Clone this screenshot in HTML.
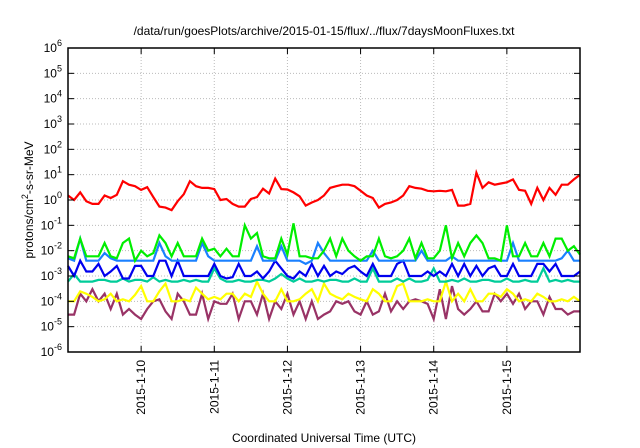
<!DOCTYPE html>
<html><head><meta charset="utf-8"><style>
html,body{margin:0;padding:0;background:#fff;}
svg{display:block;font-family:"Liberation Sans",sans-serif;}
</style></head><body>
<svg id="chart" width="640" height="448" viewBox="0 0 640 448" xmlns="http://www.w3.org/2000/svg">
<text x="324" y="35" font-size="12" text-anchor="middle" fill="#000">/data/run/goesPlots/archive/2015-01-15/flux/../flux/7daysMoonFluxes.txt</text>
<text x="324" y="442" font-size="12" text-anchor="middle" fill="#000">Coordinated Universal Time (UTC)</text>
<text transform="translate(33,200) rotate(-90)" font-size="12" text-anchor="middle" fill="#000">protons/cm<tspan dy="-5" font-size="9">2</tspan><tspan dy="5">-s-sr-MeV</tspan></text>
<g id="grid"></g><g id="series"></g><g id="axes"></g>
</svg>
<script>
const dayLabels = ["2015-1-10","2015-1-11","2015-1-12","2015-1-13","2015-1-14","2015-1-15"];
const dayValues = [10,11,12,13,14,15];
const yExponents = [-6,-5,-4,-3,-2,-1,0,1,2,3,4,5,6];
const redSeries = [1.5,1.0,2.0,0.9,0.7,0.7,1.5,1.2,1.6,5.5,4,3.5,2.5,3.2,1.3,0.55,0.5,0.4,0.9,1.7,5.5,3.5,3,3,2.7,1,1.1,0.7,0.55,0.55,1.1,1.3,2.8,1.8,7,2.7,2.6,2,1.4,0.6,0.8,1.0,1.5,3,3.5,4,4,3.5,2.3,1.5,1.2,0.5,0.7,0.8,1.0,1.5,3.5,3,2.8,2.3,2.2,2.3,2.2,2.5,0.6,0.6,0.7,12,3,5,4,4.5,5,6.5,2.5,2.3,0.7,3,1,3,1.6,4,4,6.5,10];
const greenSeries = [0.006,0.005,0.03,0.006,0.006,0.006,0.02,0.006,0.005,0.02,0.03,0.004,0.01,0.006,0.008,0.04,0.02,0.006,0.02,0.006,0.006,0.006,0.03,0.01,0.012,0.006,0.012,0.006,0.006,0.1,0.03,0.05,0.006,0.005,0.005,0.03,0.007,0.12,0.006,0.006,0.005,0.005,0.01,0.03,0.006,0.03,0.01,0.006,0.004,0.006,0.006,0.03,0.006,0.005,0.006,0.01,0.03,0.005,0.02,0.005,0.005,0.01,0.1,0.005,0.02,0.006,0.02,0.04,0.02,0.005,0.005,0.004,0.1,0.006,0.006,0.02,0.006,0.006,0.02,0.006,0.03,0.03,0.01,0.015,0.007];
const lightBlueSeries = [0.005,0.004,0.03,0.004,0.004,0.004,0.008,0.005,0.004,0.004,0.004,0.004,0.004,0.004,0.004,0.02,0.006,0.004,0.004,0.004,0.004,0.004,0.02,0.006,0.004,0.004,0.004,0.004,0.004,0.004,0.004,0.015,0.004,0.004,0.004,0.015,0.004,0.004,0.004,0.003,0.004,0.02,0.008,0.004,0.004,0.004,0.004,0.004,0.004,0.004,0.01,0.004,0.004,0.004,0.004,0.004,0.004,0.004,0.01,0.004,0.004,0.004,0.004,0.006,0.004,0.004,0.004,0.004,0.004,0.004,0.004,0.004,0.004,0.02,0.004,0.004,0.004,0.004,0.004,0.004,0.004,0.005,0.01,0.004,0.004];
const blueSeries = [0.0025,0.001,0.004,0.0015,0.0015,0.003,0.001,0.0015,0.0025,0.0008,0.0008,0.0025,0.0025,0.001,0.001,0.004,0.004,0.001,0.004,0.001,0.001,0.001,0.001,0.001,0.003,0.001,0.0008,0.0009,0.003,0.001,0.001,0.0015,0.0008,0.0015,0.004,0.002,0.001,0.0008,0.0015,0.001,0.003,0.001,0.0025,0.001,0.0015,0.0012,0.002,0.0025,0.0015,0.001,0.003,0.001,0.001,0.001,0.003,0.004,0.001,0.001,0.001,0.0015,0.001,0.0015,0.001,0.003,0.001,0.003,0.001,0.0025,0.001,0.002,0.0025,0.001,0.001,0.003,0.001,0.001,0.001,0.003,0.003,0.0015,0.003,0.001,0.001,0.001,0.0015];
const tealSeries = [0.0006,0.0012,0.0006,0.0006,0.0006,0.0007,0.0007,0.0006,0.0006,0.0008,0.0006,0.0007,0.0007,0.0006,0.0009,0.0006,0.0007,0.0006,0.0006,0.0007,0.0006,0.0007,0.0006,0.0006,0.002,0.0008,0.0006,0.0006,0.0007,0.0006,0.0006,0.0007,0.0007,0.0006,0.0008,0.0012,0.0008,0.0006,0.0008,0.0006,0.0006,0.0007,0.0006,0.0007,0.0007,0.0006,0.0006,0.0008,0.0006,0.0006,0.002,0.0006,0.0006,0.0006,0.0008,0.0006,0.0008,0.0006,0.0006,0.0007,0.002,0.0006,0.0006,0.0007,0.0006,0.0008,0.0006,0.0006,0.0007,0.0007,0.0006,0.0006,0.0008,0.0006,0.0006,0.0007,0.0006,0.0006,0.002,0.0006,0.0007,0.0006,0.0007,0.0006,0.0006];
const yellowSeries = [0.0001,0.0001,0.00025,0.0002,0.00015,0.0001,0.00012,0.0002,0.0001,0.00012,0.0001,0.00018,0.0004,0.0001,0.0001,0.00025,0.0005,0.0001,0.0001,0.00012,0.0001,0.00035,0.0002,0.00012,0.00015,0.00012,0.0002,0.0002,0.0001,0.0002,0.00015,0.0006,0.0002,0.0001,0.0001,0.0003,0.0001,0.0001,0.00012,0.0002,0.0003,0.0001,0.0005,0.0002,0.00015,0.00012,0.0002,0.00015,0.00012,0.0001,0.0003,0.0002,0.0001,0.0001,0.0004,0.0005,0.0001,0.0001,0.0001,0.00012,0.0001,0.0001,0.0006,0.0001,0.0002,0.0001,0.0003,0.0001,0.0001,0.0002,0.0002,0.00015,0.0003,0.0002,0.0001,0.00012,0.0001,0.0002,0.00015,0.0001,0.0001,0.00012,0.0001,0.00015,0.0001];
const purpleSeries = [0.00003,0.00003,0.0002,0.0001,0.0003,0.0001,0.0002,0.00005,0.0002,0.00003,0.00005,0.00003,0.00002,0.00005,0.0001,0.00012,0.00004,0.00002,0.0002,0.0001,0.00003,0.00003,0.0002,0.00002,0.0001,0.00008,0.00008,0.0002,0.00002,0.0001,0.0001,0.00003,0.0002,0.00002,0.0001,0.00005,0.0002,0.00003,0.0001,0.00002,0.0001,0.00002,0.00003,0.00004,0.0001,0.00008,0.0001,0.00004,0.00003,0.0001,0.00003,0.00004,0.0002,0.00004,0.0001,0.00005,0.0001,0.00012,0.0001,0.00008,0.00002,0.0003,0.00002,0.0004,0.00005,0.00003,0.00005,0.0001,0.00004,0.00004,0.0002,0.0001,0.0002,0.00008,0.0002,0.00005,0.0001,0.0001,0.00003,0.00015,0.00005,0.00005,0.00003,0.00004,0.00004];
const seriesList = [
  {name:"purple-series", data:purpleSeries, color:"#993366"},
  {name:"yellow-series", data:yellowSeries, color:"#ffff00"},
  {name:"teal-series", data:tealSeries, color:"#00cc99"},
  {name:"blue-series", data:blueSeries, color:"#0000ee"},
  {name:"light-blue-series", data:lightBlueSeries, color:"#1a80ff"},
  {name:"green-series", data:greenSeries, color:"#00ee00"},
  {name:"red-series", data:redSeries, color:"#ff0000"}
];
const L=68,R=580,T=48,B=352, dayMin=9, dayMax=16, eMin=-6, eMax=6;
const NS="http://www.w3.org/2000/svg";
function xDay(d){return L+(d-dayMin)/(dayMax-dayMin)*(R-L);}
function yExp(e){return B-(e-eMin)/(eMax-eMin)*(B-T);}
function yVal(v){return yExp(Math.log10(v));}
function mk(tag,attrs,parent){const el=document.createElementNS(NS,tag);for(const k in attrs)el.setAttribute(k,attrs[k]);parent.appendChild(el);return el;}
const grid=document.getElementById('grid'),axes=document.getElementById('axes'),ser=document.getElementById('series');
yExponents.forEach(e=>{
  const y=yExp(e);
  if(e>eMin&&e<eMax){const g=mk('line',{x1:L,x2:R,y1:y,y2:y,stroke:'#bbb','stroke-width':1,'stroke-dasharray':'1,2'},grid);
  
  }
  mk('line',{x1:L,x2:L+6,y1:y,y2:y,stroke:'#000'},axes);
  mk('line',{x1:R,x2:R-6,y1:y,y2:y,stroke:'#000'},axes);
  const t=mk('text',{x:L-6,y:y+4,'font-size':12,'text-anchor':'end',fill:'#000'},axes);
  
  
  t.textContent='10';
  const s=mk('tspan',{dy:-6,'font-size':9},t); s.textContent=String(e);
});
dayValues.forEach((d,i)=>{
  const x=xDay(d);
  const g=mk('line',{x1:x,x2:x,y1:T,y2:B,stroke:'#bbb','stroke-width':1,'stroke-dasharray':'1,2'},grid);
  
  
  mk('line',{x1:x,x2:x,y1:B,y2:B-6,stroke:'#000'},axes);
  mk('line',{x1:x,x2:x,y1:T,y2:T+6,stroke:'#000'},axes);
  const t=mk('text',{transform:`translate(${x+4},360) rotate(-90)`,'font-size':12,'text-anchor':'end',fill:'#000'},axes);
  
  
  t.textContent=dayLabels[i];
});
const frame=mk('rect',{x:L,y:T,width:R-L,height:B-T,fill:'none',stroke:'#000','stroke-width':1.5},axes);


seriesList.forEach(s=>{
  const n=s.data.length;
  const pts=s.data.map((v,i)=>xDay(dayMin+i*(dayMax-dayMin)/(n-1)).toFixed(1)+','+yVal(v).toFixed(1)).join(' ');
  const p=mk('polyline',{points:pts,fill:'none',stroke:s.color,'stroke-width':2.2,'stroke-linejoin':'miter'},ser);
  
  
});
</script>
</body></html>
